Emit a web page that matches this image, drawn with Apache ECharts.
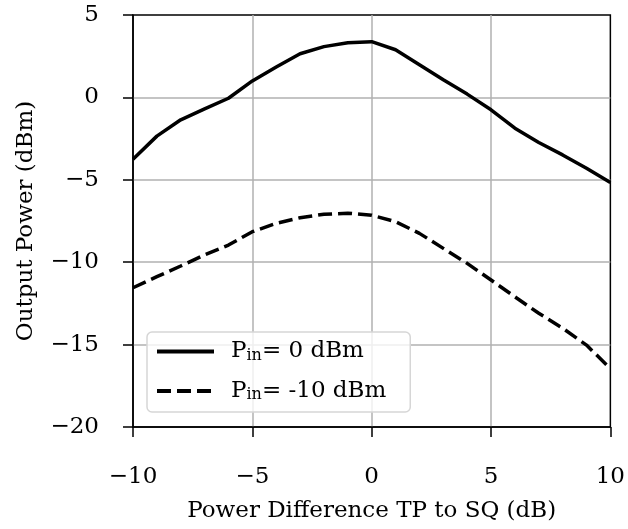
<!DOCTYPE html>
<html><head><meta charset="utf-8">
<script src="https://cdn.jsdelivr.net/npm/echarts@6/dist/echarts.min.js"></script>
<style>html,body{margin:0;padding:0;background:#fff}#c{width:628px;height:529px}</style>
</head><body><div id="c"></div>
<script>
const xValues = [-10,-9,-8,-7,-6,-5,-4,-3,-2,-1,0,1,2,3,4,5,6,7,8,9,10];
const pin0 = [-3.75,-2.35,-1.36,-0.7,-0.05,1.0,1.84,2.65,3.08,3.32,3.38,2.89,1.98,1.07,0.2,-0.75,-1.87,-2.74,-3.49,-4.3,-5.17];
const pinM10 = [-11.55,-10.88,-10.23,-9.56,-8.96,-8.15,-7.64,-7.3,-7.09,-7.03,-7.15,-7.54,-8.25,-9.16,-10.07,-11.08,-12.1,-13.1,-14.0,-15.03,-16.45];
const seriesNames = ['P_in0','P_in-10'];
const legendLabels = {'P_in0':'{g|}{m|P}{s|in}{m|= 0 dBm}','P_in-10':'{g|}{m|P}{s|in}{m|= -10 dBm}'};
const FONT = 'DejaVu Serif';
const FS = 23;
const minus = v => String(v).replace('-', '\u2212');
const chart = echarts.init(document.getElementById('c'));
chart.setOption({
  animation:false,
  backgroundColor:'#fff',
  grid:{left:133,right:15,top:15,bottom:102,show:true,borderColor:'#000',borderWidth:1.5,backgroundColor:'transparent'},
  xAxis:{type:'value',min:-10,max:10,interval:5,
    name:'Power Difference TP to SQ (dB)',nameLocation:'middle',nameGap:73,
    nameTextStyle:{fontFamily:FONT,fontSize:FS,color:'#000'},
    axisLine:{show:true,onZero:false,lineStyle:{color:'#000',width:1.5}},
    axisTick:{show:true,inside:false,length:10,lineStyle:{color:'#000',width:1.5}},
    axisLabel:{formatter:minus,fontFamily:FONT,fontSize:FS,color:'#000',margin:39},
    splitLine:{show:true,showMinLine:false,showMaxLine:false,lineStyle:{color:'#b0b0b0',width:1.5}}},
  yAxis:{type:'value',min:-20,max:5,interval:5,
    name:'Output Power (dBm)',nameLocation:'middle',nameGap:95,nameRotate:90,
    nameTextStyle:{fontFamily:FONT,fontSize:FS,color:'#000'},
    axisLine:{show:true,onZero:false,lineStyle:{color:'#000',width:1.5}},
    axisTick:{show:true,inside:false,length:10,lineStyle:{color:'#000',width:1.5}},
    axisLabel:{formatter:minus,fontFamily:FONT,fontSize:FS,color:'#000',margin:34},
    splitLine:{show:true,showMinLine:false,showMaxLine:false,lineStyle:{color:'#b0b0b0',width:1.5}}},
  legend:{left:147,top:332,orient:'vertical',itemWidth:57,itemHeight:14,itemGap:16,
    padding:[8,24,9,8],
    backgroundColor:'rgba(255,255,255,0.8)',borderColor:'#d6d6d6',borderWidth:1.5,borderRadius:5,
    data:seriesNames,
    itemStyle:{opacity:0},
    lineStyle:{width:4},
    formatter:n=>legendLabels[n],
    textStyle:{fontFamily:FONT,fontSize:FS,color:'#000',
      rich:{g:{width:12},m:{fontFamily:FONT,fontSize:FS,color:'#000',lineHeight:24},s:{fontFamily:FONT,fontSize:16,color:'#000',lineHeight:24,verticalAlign:'bottom'}}}},
  series:[
    {name:seriesNames[0],type:'line',data:xValues.map((x,i)=>[x,pin0[i]]),showSymbol:false,symbol:'none',
      lineStyle:{color:'#000',width:3.5,type:'solid'},itemStyle:{color:'#000'}},
    {name:seriesNames[1],type:'line',data:xValues.map((x,i)=>[x,pinM10[i]]),showSymbol:false,symbol:'none',
      lineStyle:{color:'#000',width:3.5,type:[14,6]},itemStyle:{color:'#000'}}
  ]
});
</script></body></html>
